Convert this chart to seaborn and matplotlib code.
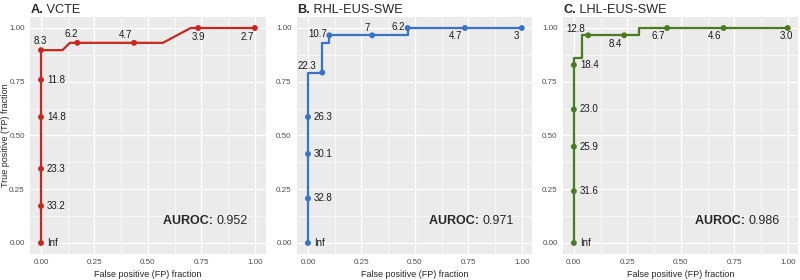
import numpy as np
import pandas as pd
import seaborn as sns
import matplotlib.pyplot as plt
from matplotlib.ticker import MultipleLocator

# --- data ---
titles = ["VCTE", "RHL-EUS-SWE", "LHL-EUS-SWE"]
letters = ["A.", "B.", "C."]
auroc = ["0.952", "0.971", "0.986"]

# full ROC paths
path_a_x = [0, 0, 0, 0, 0, 0, 0.10, 0.135, 0.17, 0.435, 0.57, 0.70, 0.735, 1.0]
path_a_y = [0, 0.172, 0.345, 0.586, 0.759, 0.897, 0.897, 0.931, 0.931, 0.931, 0.931, 1, 1, 1]
path_b_x = [0, 0, 0.067, 0.067, 0.10, 0.10, 0.30, 0.466, 0.466, 0.734, 1.0]
path_b_y = [0, 0.793, 0.793, 0.931, 0.931, 0.966, 0.966, 0.966, 1, 1, 1]
path_c_x = [0, 0, 0.036, 0.036, 0.067, 0.235, 0.305, 0.305, 0.436, 0.70, 1.0]
path_c_y = [0, 0.862, 0.862, 0.966, 0.966, 0.966, 0.966, 1, 1, 1, 1]

# labelled cutoff points
pts_a_x = [0, 0, 0, 0, 0, 0, 0.17, 0.435, 0.735, 1.0]
pts_a_y = [0, 0.172, 0.345, 0.586, 0.759, 0.897, 0.931, 0.931, 1, 1]
cut_a = ["Inf", "33.2", "23.3", "14.8", "11.8", "8.3", "6.2", "4.7", "3.9", "2.7"]
pts_b_x = [0, 0, 0, 0, 0.067, 0.10, 0.30, 0.466, 0.734, 1.0]
pts_b_y = [0, 0.207, 0.414, 0.586, 0.793, 0.966, 0.966, 1, 1, 1]
cut_b = ["Inf", "32.8", "30.1", "26.3", "22.3", "10.7", "7", "6.2", "4.7", "3"]
pts_c_x = [0, 0, 0, 0, 0, 0.067, 0.235, 0.436, 0.70, 1.0]
pts_c_y = [0, 0.241, 0.448, 0.621, 0.828, 0.966, 0.966, 1, 1, 1]
cut_c = ["Inf", "31.6", "25.9", "23.0", "18.4", "12.8", "8.4", "6.7", "4.6", "3.0"]

colors = ["#C8271E", "#3A72C6", "#4A7B21"]

# label placement (pixel offsets, alignment)
R = (6, 0, "left")
place_a = [R, R, R, R, R, (-1, 9, "center"), (-6, 9, "center"), (-9, 8, "center"),
           (0, -9, "center"), (-8, -9, "center")]
place_b = [R, R, R, R, (-6, 7, "right"), (-2, 1, "right"), (-5, 7, "center"),
           (-3, 1, "right"), (-9, -8, "center"), (-5, -8, "center")]
place_c = [R, R, R, R, R, (-3, 6, "right"), (-9, -9, "center"), (-9, -8, "center"),
           (-9, -8, "center"), (-1, -8, "center")]

sns.set_theme(style="darkgrid", rc={
    "axes.facecolor": "#EBEBEB",
    "grid.color": "white",
    "axes.edgecolor": "#EBEBEB",
})
plt.rcParams["font.family"] = ["Liberation Sans", "DejaVu Sans"]

fig = plt.figure(figsize=(8, 2.8), dpi=100)
lefts = [0.0379, 0.3716, 0.704]
paths = [(path_a_x, path_a_y), (path_b_x, path_b_y), (path_c_x, path_c_y)]
pts = [(pts_a_x, pts_a_y, cut_a, place_a), (pts_b_x, pts_b_y, cut_b, place_b),
       (pts_c_x, pts_c_y, cut_c, place_c)]

for i in range(3):
    ax = fig.add_axes([lefts[i], 0.0938, 0.294, 0.8446])
    px, py = paths[i]
    line_df = pd.DataFrame({"fpf": px, "tpf": py})
    sns.lineplot(data=line_df, x="fpf", y="tpf", sort=False, estimator=None,
                 color=colors[i], lw=1.6, ax=ax)
    qx, qy, cuts, place = pts[i]
    pt_df = pd.DataFrame({"fpf": qx, "tpf": qy})
    sns.scatterplot(data=pt_df, x="fpf", y="tpf", color=colors[i], s=18,
                    edgecolor="none", zorder=3, ax=ax)
    for xx, yy, lab, (dx, dy, ha) in zip(qx, qy, cuts, place):
        ax.annotate(lab, (xx, yy), xytext=(dx, dy), textcoords="offset pixels",
                    ha=ha, va="center", fontsize=7, color="#1A1A1A")

    ax.set_xlim(-0.05, 1.05)
    ax.set_ylim(-0.05, 1.05)
    ax.xaxis.set_minor_locator(MultipleLocator(0.125))
    ax.yaxis.set_minor_locator(MultipleLocator(0.125))
    ax.grid(which="major", color="white", lw=0.9)
    ax.grid(which="minor", color="white", lw=0.45)
    ax.set_xticks([0, 0.25, 0.5, 0.75, 1.0])
    ax.set_xticklabels(["0.00", "0.25", "0.50", "0.75", "1.00"])
    ax.set_yticks([0, 0.25, 0.5, 0.75, 1.0])
    ax.set_yticklabels(["0.00", "0.25", "0.50", "0.75", "1.00"])
    ax.tick_params(which="major", length=2.5, width=0.6, color="#333333",
                   labelsize=5.8, labelcolor="#4D4D4D", pad=1.5)
    ax.tick_params(which="minor", length=0)
    ax.set_xlabel("False positive (FP) fraction", fontsize=6.5, labelpad=3)
    if i == 0:
        ax.set_ylabel("True positive (TP) fraction", fontsize=6.5)
        ax.yaxis.set_label_coords(-0.088, 0.5)
    else:
        ax.set_ylabel("")
    for sp in ax.spines.values():
        sp.set_visible(False)

    # panel title: bold letter + normal name
    t1 = ax.text(0.0, 1.017, letters[i], transform=ax.transAxes, fontsize=9.2,
                 fontweight="bold", ha="left", va="baseline")
    ax.annotate(" " + titles[i], xy=(1, 0), xycoords=t1, ha="left", va="bottom",
                fontsize=9.2)

    # AUROC annotation: bold key + normal value
    t2 = ax.text(0.965, 0.1, auroc[i], transform=ax.transData, fontsize=9,
                 ha="right", va="center")
    ax.annotate("AUROC: ", xy=(0, 0), xycoords=t2, ha="right", va="bottom",
                fontsize=9, fontweight="bold")

fig.savefig("out.png", dpi=100)
